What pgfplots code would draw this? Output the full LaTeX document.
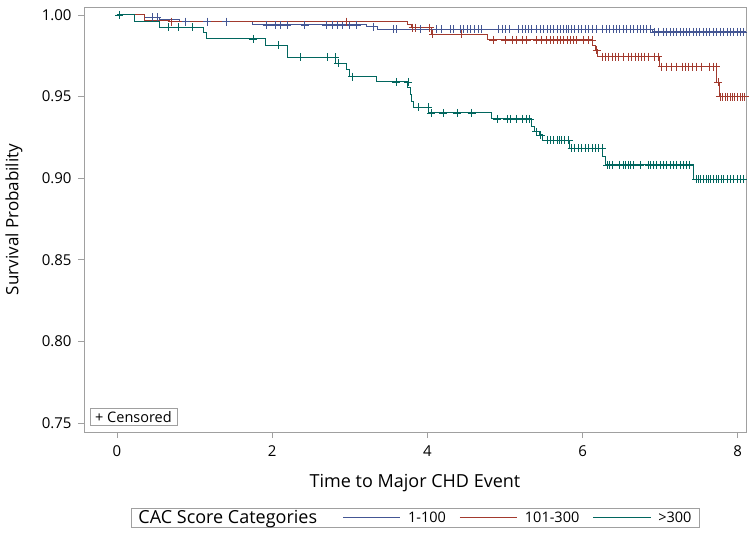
\documentclass[border=0pt]{standalone}
\usepackage{fontspec}
\setmainfont{Open Sans}
\usepackage{pgfplots}
\pgfplotsset{compat=1.18}
\definecolor{gdA}{HTML}{445694}
\definecolor{gdB}{HTML}{A23A2E}
\definecolor{gdC}{HTML}{01665E}
\definecolor{framegray}{HTML}{A0A0A0}

\begin{document}
\begin{tikzpicture}
\useasboundingbox (-84bp,-106bp) rectangle (670bp,432bp);
\begin{axis}[
  at={(0,0)}, anchor=south west,
  width=662bp, height=425bp, scale only axis,
  xmin=-0.425, xmax=8.106,
  ymin=0.7445, ymax=1.0049,
  xtick={0,2,4,6,8},
  ytick={0.75,0.8,0.85,0.9,0.95,1},
  yticklabel style={xshift=-3bp, /pgf/number format/.cd, fixed, fixed zerofill, precision=2},
  /pgf/number format/assume math mode=true,
  xtick pos=bottom, ytick pos=left,
  tick align=outside, major tick length=6bp,
  tick style={framegray, line width=0.8bp},
  axis line style={framegray, line width=0.8bp},
  ticklabel style={font=\fontsize{15bp}{17bp}\selectfont},
  xticklabel style={yshift=-4bp},
  xlabel={Time to Major CHD Event},
  ylabel={Survival Probability},
  xlabel style={at={(axis description cs:0.5,-0.12)}, anchor=center,
    font=\fontsize{18bp}{21bp}\selectfont},
  ylabel style={at={(axis description cs:-0.1057,0.5)}, anchor=center,
    font=\fontsize{17bp}{20bp}\selectfont},
  clip=true,
  legend columns=4,
  legend style={at={(axis description cs:0.5,-0.178)}, anchor=north,
    draw=framegray, inner xsep=6bp, inner ysep=1bp,
    font=\fontsize{14.5bp}{17bp}\selectfont,
    nodes={inner sep=1.5bp},
    /tikz/every even column/.append style={column sep=12bp}},
]
\addlegendimage{empty legend}
\addlegendentry{\fontsize{18bp}{21bp}\selectfont CAC Score Categories\rule{12bp}{0pt}}

% 1-100
\addplot[const plot, color=gdA, line width=1bp,
  legend image code/.code={\path[draw=none] (0bp,0bp) -- (64bp,0bp);
    \node[inner sep=0pt, anchor=west] at (0bp,0bp) {\textcolor{gdA}{\rule[-0.6bp]{57bp}{1.2bp}}};}] table {
0    1.0
0.36 0.9986
0.55 0.9973
0.80 0.9959
1.75 0.9939
3.22 0.9928
3.36 0.9914
6.90 0.9896
8.10 0.9896
};
\addlegendentry{1-100}

% 101-300
\addplot[const plot, color=gdB, line width=1bp,
  legend image code/.code={\path[draw=none] (0bp,0bp) -- (64bp,0bp);
    \node[inner sep=0pt, anchor=west] at (0bp,0bp) {\textcolor{gdB}{\rule[-0.6bp]{57bp}{1.2bp}}};}] table {
0    1.0
0.36 0.9969
0.68 0.9959
3.75 0.9939
3.79 0.9922
4.05 0.9882
4.77 0.9847
6.13 0.9816
6.17 0.9786
6.19 0.9745
6.99 0.9683
7.73 0.9589
7.76 0.9499
8.10 0.9499
};
\addlegendentry{101-300}

% >300
\addplot[const plot, color=gdC, line width=1bp,
  legend image code/.code={\path[draw=none] (0bp,0bp) -- (64bp,0bp);
    \node[inner sep=0pt, anchor=west] at (0bp,0bp) {\textcolor{gdC}{\rule[-0.6bp]{58bp}{1.2bp}}};}] table {
0    1.0
0.22 0.9961
0.55 0.9924
1.12 0.9890
1.16 0.9853
1.92 0.9814
2.20 0.9741
2.82 0.9704
2.96 0.9669
3.00 0.9622
3.35 0.9590
3.75 0.9553
3.78 0.9510
3.80 0.9467
3.82 0.9436
4.02 0.9400
4.82 0.9363
5.34 0.9316
5.38 0.9285
5.44 0.9265
5.48 0.9234
5.83 0.9185
6.26 0.9133
6.30 0.9081
7.43 0.8995
8.10 0.8995
};
\addlegendentry{>300}

% censored, 1-100
\addplot[only marks, mark=+, mark size=4bp, color=gdA, mark options={line width=0.7bp}, forget plot] table {
0.45 0.9986
0.52 0.9986
0.885 0.9959
1.16 0.9959
1.41 0.9959
1.93 0.9939
2.04 0.9939
2.11 0.9939
2.19 0.9939
2.42 0.9939
2.70 0.9939
2.78 0.9939
2.84 0.9939
2.90 0.9939
3.00 0.9939
3.09 0.9939
3.30 0.9928
3.56 0.9914
3.60 0.9914
3.905 0.9914
4.12 0.9914
4.18 0.9914
4.29 0.9914
4.33 0.9914
4.42 0.9914
4.46 0.9914
4.51 0.9914
4.55 0.9914
4.61 0.9914
4.66 0.9914
4.70 0.9914
4.91 0.9914
4.96 0.9914
5.00 0.9914
5.06 0.9914
5.17 0.9914
5.22 0.9914
5.26 0.9914
5.30 0.9914
5.34 0.9914
5.41 0.9914
5.45 0.9914
5.49 0.9914
5.54 0.9914
5.58 0.9914
5.62 0.9914
5.67 0.9914
5.71 0.9914
5.75 0.9914
5.79 0.9914
5.82 0.9914
5.86 0.9914
5.90 0.9914
5.94 0.9914
5.99 0.9914
6.03 0.9914
6.07 0.9914
6.12 0.9914
6.18 0.9914
6.25 0.9914
6.31 0.9914
6.35 0.9914
6.40 0.9914
6.44 0.9914
6.48 0.9914
6.52 0.9914
6.57 0.9914
6.61 0.9914
6.65 0.9914
6.70 0.9914
6.74 0.9914
6.78 0.9914
6.82 0.9914
6.87 0.9914
6.93 0.9896
6.98 0.9896
7.04 0.9896
7.08 0.9896
7.13 0.9896
7.17 0.9896
7.21 0.9896
7.26 0.9896
7.30 0.9896
7.34 0.9896
7.38 0.9896
7.43 0.9896
7.47 0.9896
7.51 0.9896
7.56 0.9896
7.60 0.9896
7.64 0.9896
7.68 0.9896
7.73 0.9896
7.77 0.9896
7.81 0.9896
7.86 0.9896
7.90 0.9896
7.94 0.9896
7.99 0.9896
8.03 0.9896
8.07 0.9896
};

% censored, 101-300
\addplot[only marks, mark=+, mark size=4bp, color=gdB, mark options={line width=0.7bp}, forget plot] table {
0.705 0.9959
2.95 0.9959
3.81 0.9922
3.85 0.9922
4.03 0.9922
4.07 0.9882
4.44 0.9882
4.85 0.9847
5.00 0.9847
5.10 0.9847
5.15 0.9847
5.22 0.9847
5.28 0.9847
5.41 0.9847
5.47 0.9847
5.53 0.9847
5.58 0.9847
5.62 0.9847
5.67 0.9847
5.71 0.9847
5.75 0.9847
5.80 0.9847
5.84 0.9847
5.88 0.9847
5.92 0.9847
6.01 0.9847
6.07 0.9847
6.12 0.9847
6.18 0.9786
6.25 0.9745
6.29 0.9745
6.33 0.9745
6.38 0.9745
6.42 0.9745
6.46 0.9745
6.52 0.9745
6.59 0.9745
6.63 0.9745
6.68 0.9745
6.72 0.9745
6.76 0.9745
6.80 0.9745
6.85 0.9745
6.93 0.9745
6.97 0.9745
7.02 0.9683
7.08 0.9683
7.15 0.9683
7.21 0.9683
7.28 0.9683
7.32 0.9683
7.36 0.9683
7.41 0.9683
7.47 0.9683
7.53 0.9683
7.64 0.9683
7.68 0.9683
7.72 0.9683
7.745 0.9589
7.77 0.9499
7.80 0.9499
7.84 0.9499
7.87 0.9499
7.90 0.9499
7.93 0.9499
7.96 0.9499
7.99 0.9499
8.03 0.9499
8.06 0.9499
8.09 0.9499
};

% censored, >300
\addplot[only marks, mark=+, mark size=4bp, color=gdC, mark options={line width=0.7bp}, forget plot] table {
0.03 1.0
0.657 0.9924
0.786 0.9924
0.966 0.9924
1.753 0.9853
2.075 0.9814
2.358 0.9741
2.706 0.9741
2.81 0.9741
2.85 0.9704
3.03 0.9622
3.595 0.9590
3.75 0.9590
3.89 0.9436
4.01 0.9436
4.05 0.9400
4.20 0.9400
4.38 0.9400
4.57 0.9400
4.90 0.9363
5.03 0.9363
5.07 0.9363
5.15 0.9363
5.22 0.9363
5.27 0.9363
5.32 0.9363
5.40 0.9285
5.46 0.9265
5.54 0.9234
5.58 0.9234
5.62 0.9234
5.67 0.9234
5.70 0.9234
5.73 0.9234
5.77 0.9234
5.82 0.9234
5.86 0.9185
5.90 0.9185
5.94 0.9185
5.99 0.9185
6.03 0.9185
6.07 0.9185
6.12 0.9185
6.16 0.9185
6.20 0.9185
6.25 0.9185
6.32 0.9081
6.35 0.9081
6.39 0.9081
6.48 0.9081
6.52 0.9081
6.55 0.9081
6.59 0.9081
6.61 0.9081
6.65 0.9081
6.74 0.9081
6.85 0.9081
6.87 0.9081
6.91 0.9081
6.95 0.9081
7.00 0.9081
7.04 0.9081
7.08 0.9081
7.13 0.9081
7.17 0.9081
7.21 0.9081
7.26 0.9081
7.30 0.9081
7.34 0.9081
7.38 0.9081
7.46 0.8995
7.49 0.8995
7.52 0.8995
7.56 0.8995
7.59 0.8995
7.62 0.8995
7.65 0.8995
7.68 0.8995
7.72 0.8995
7.75 0.8995
7.79 0.8995
7.81 0.8995
7.82 0.8995
7.86 0.8995
7.90 0.8995
7.94 0.8995
7.99 0.8995
8.03 0.8995
8.07 0.8995
};

\node[draw=framegray, anchor=south west, inner xsep=5bp, inner ysep=2.5bp,
  font=\fontsize{14.5bp}{16bp}\selectfont, xshift=6bp, yshift=7bp]
  at (rel axis cs:0,0) {+ Censored};
\end{axis}
\end{tikzpicture}
\end{document}
